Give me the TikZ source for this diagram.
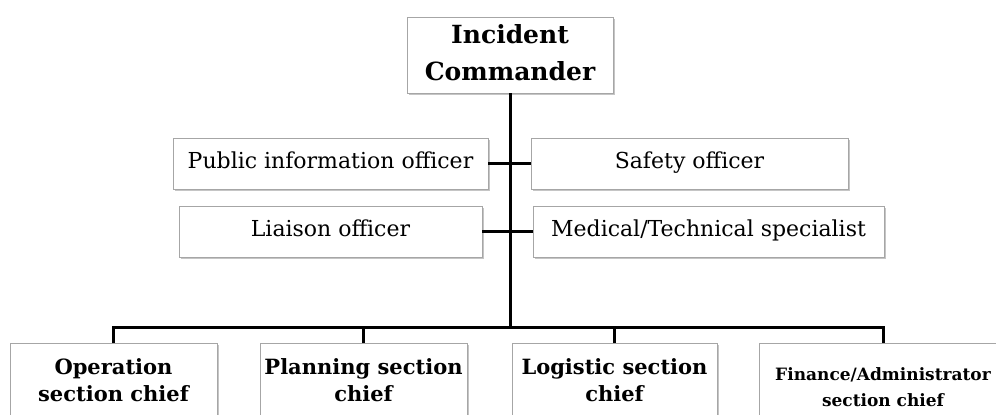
\documentclass[tikz,border=0pt]{standalone}
\usepackage{fontspec}
\setmainfont{DejaVu Serif}
\usetikzlibrary{shadows}

\begin{document}
\begin{tikzpicture}[x=1pt,y=-1pt,
  card/.style={draw=black!35, line width=0.8pt, fill=white,
    drop shadow={shadow xshift=1.5pt, shadow yshift=-1.5pt, fill=black!45, opacity=0.5},
    inner sep=0pt, align=center},
  chief/.style={card, font=\fontsize{25}{37}\selectfont\bfseries},
  staff/.style={card, font=\fontsize{22}{26}\selectfont, text height=16pt, text depth=6pt,
    minimum height=51pt},
  section/.style={card, anchor=north, font=\fontsize{21}{27}\selectfont\bfseries,
    minimum height=74pt},
  link/.style={line width=3pt, draw=black}
]
\useasboundingbox (0,0) rectangle (996,415);
\clip (0,0) rectangle (996,415);

% command post
\node[chief, minimum width=206pt, minimum height=76pt] (ic) at (510,55)
  {Incident\\Commander\vphantom{g}};

% command staff
\node[staff, minimum width=315pt] (pio) at (330.5,163.5) {Public information officer};
\node[staff, minimum width=317pt] (saf) at (689.5,163.5) {Safety officer};
\node[staff, minimum width=303pt] (lia) at (330.5,231.5) {Liaison officer};
\node[staff, minimum width=351pt] (med) at (708.5,231.5) {Medical/Technical specialist};

% general staff
\node[section, minimum width=207pt] (ops) at (113.5,343) {Operation\\section chief};
\node[section, minimum width=207pt] (pln) at (363.5,343) {Planning section\\chief};
\node[section, minimum width=205pt] (log) at (614.5,343) {Logistic section\\chief};
\node[section, minimum width=248pt, minimum height=87pt,
  font=\fontsize{17}{26}\selectfont\bfseries] (fin) at (883,343)
  {Finance/Administrator\\section chief};

% connectors
\coordinate (bus) at (ic.south |- 0,327);
\draw[link] (ic.south) -- (bus);
\draw[link] (pio.east) -- (saf.west);
\draw[link] (lia.east) -- (med.west);
\draw[link] (ops.north) |- (bus) -| (fin.north);
\draw[link] (pln.north) -- (pln.north |- bus);
\draw[link] (log.north) -- (log.north |- bus);
\end{tikzpicture}
\end{document}
